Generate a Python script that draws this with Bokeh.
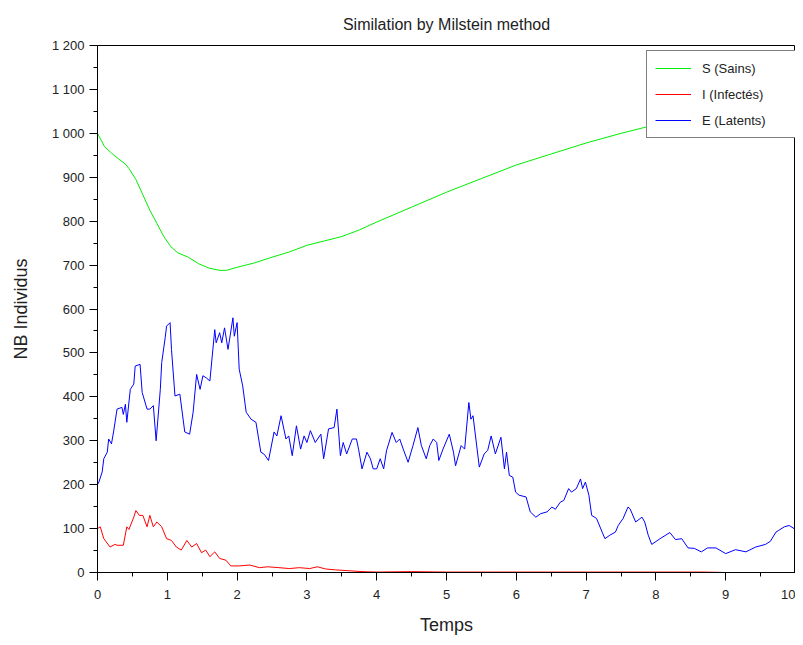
from bokeh.plotting import figure
from bokeh.models import FixedTicker, Legend, LegendItem, Range1d
from bokeh.embed import file_html
from bokeh.resources import INLINE

# ---- data ----
s_t = [0, 0.1, 0.2, 0.3, 0.4, 0.45, 0.55, 0.65, 0.75, 0.85, 0.95, 1.05, 1.15, 1.3,
       1.45, 1.6, 1.75, 1.85, 2.0, 2.25, 2.5, 2.75, 3.0, 3.25, 3.5, 3.75, 4.0, 4.5,
       5.0, 5.5, 6.0, 6.5, 7.0, 7.5, 8.0, 8.5, 9.0, 9.5, 10.0]
s_v = [1000, 970, 955, 942, 930, 920, 895, 860, 825, 795, 765, 742, 728, 718,
       703, 693, 688, 688, 695, 705, 718, 730, 745, 755, 765, 780, 798, 832,
       866, 897, 928, 953, 978, 1000, 1020, 1040, 1060, 1080, 1100]

i_t = [0, 0.04, 0.09, 0.18, 0.25, 0.28, 0.37, 0.42, 0.45, 0.52, 0.55, 0.6, 0.65,
       0.71, 0.75, 0.8, 0.85, 0.92, 0.99, 1.06, 1.13, 1.2, 1.28, 1.35, 1.42, 1.49,
       1.55, 1.61, 1.68, 1.75, 1.84, 1.91, 2.03, 2.18, 2.32, 2.44, 2.6, 2.75, 2.89,
       3.04, 3.15, 3.27, 3.41, 3.6, 3.79, 4.0, 4.5, 5.0, 5.5, 6.0, 6.5, 7.0, 7.5,
       8.0, 8.7, 9.0, 10.0]
i_v = [100, 104, 77, 58, 64, 62, 62, 104, 98, 126, 141, 130, 130,
       104, 130, 104, 115, 104, 77, 73, 58, 51, 73, 58, 66, 45,
       51, 36, 47, 32, 28, 15, 15, 17, 11, 13, 11, 9, 11,
       9, 13, 8, 6, 4, 2, 1, 2, 1, 1, 1, 1, 1, 1,
       1, 1, 0, 0]

e_t = [0, 0.02, 0.067, 0.09, 0.14, 0.16, 0.2, 0.23, 0.28, 0.35, 0.37, 0.4, 0.42,
       0.47, 0.52, 0.54, 0.61, 0.64, 0.71, 0.75, 0.8, 0.84, 0.9, 0.92, 0.97, 0.99,
       1.04, 1.06, 1.11, 1.18, 1.25, 1.32, 1.37, 1.42, 1.47, 1.51, 1.56, 1.61,
       1.68, 1.7, 1.75, 1.78, 1.82, 1.87, 1.94, 1.96, 2.0, 2.03, 2.08, 2.13, 2.2,
       2.27, 2.34, 2.39, 2.45, 2.53, 2.57, 2.63, 2.7, 2.74, 2.79, 2.85, 2.91, 2.96,
       3.0, 3.05, 3.12, 3.2, 3.24, 3.31, 3.39, 3.43, 3.48, 3.52, 3.57, 3.65, 3.71,
       3.74, 3.79, 3.86, 3.91, 3.95, 4.0, 4.05, 4.1, 4.14, 4.22, 4.28, 4.33, 4.38,
       4.45, 4.52, 4.59, 4.64, 4.71, 4.76, 4.81, 4.86, 4.89, 4.95, 5.04, 5.1, 5.13,
       5.21, 5.26, 5.32, 5.35, 5.38, 5.47, 5.54, 5.59, 5.64, 5.7, 5.78, 5.83, 5.86,
       5.9, 5.95, 5.99, 6.04, 6.14, 6.2, 6.28, 6.35, 6.44, 6.51, 6.56, 6.63, 6.68,
       6.75, 6.79, 6.86, 6.92, 6.95, 6.99, 7.04, 7.08, 7.15, 7.23, 7.27, 7.34, 7.42,
       7.46, 7.53, 7.6, 7.63, 7.71, 7.8, 7.84, 7.89, 7.94, 8.06, 8.2, 8.28, 8.37,
       8.46, 8.55, 8.65, 8.74, 8.86, 9.0, 9.14, 9.29, 9.43, 9.57, 9.64, 9.72, 9.76,
       9.84, 9.91, 9.98]
e_v = [200, 206, 229, 259, 274, 304, 293, 320, 372, 376, 360, 383, 342,
       417, 429, 470, 474, 410, 372, 372, 380, 300, 417, 478, 535, 561,
       569, 508, 402, 406, 320, 315, 365, 451, 417, 448, 443, 436,
       553, 523, 546, 523, 557, 508, 580, 538, 569, 463, 425, 365, 349,
       342, 274, 269, 255, 320, 311, 357, 304, 311, 266, 334, 281, 311,
       296, 323, 296, 315, 259, 327, 330, 372, 266, 296, 270, 304, 304,
       281, 236, 274, 259, 236, 236, 259, 236, 277, 319, 296, 304, 281,
       251, 289, 330, 289, 259, 289, 304, 296, 255, 281, 315, 274, 243,
       289, 281, 387, 349, 357, 240, 270, 278, 311, 270, 308, 236, 274,
       221, 217, 183, 176, 172, 138, 126, 134, 138, 149, 144, 160, 164,
       191, 183, 191, 213, 191, 206, 176, 130, 123, 92, 77, 85, 92,
       107, 123, 149, 145, 115, 126, 115, 85, 64, 77, 91, 75, 77,
       56, 55, 47, 56, 56, 43, 52, 47, 58, 64, 71, 92, 96,
       104, 107, 100]

y_ticks = [0, 100, 200, 300, 400, 500, 600, 700, 800, 900, 1000, 1100, 1200]
y_tick_labels = ["0", "100", "200", "300", "400", "500", "600", "700", "800",
                 "900", "1 000", "1 100", "1 200"]
x_ticks = [0, 1, 2, 3, 4, 5, 6, 7, 8, 9, 10]

FONT = "Liberation Sans"

p = figure(width=795, height=637, output_backend="svg", toolbar_location=None,
           x_range=Range1d(0, 10), y_range=Range1d(0, 1200),
           min_border_left=97, min_border_right=0, min_border_top=45,
           min_border_bottom=63, title="Similation by Milstein method")

p.title.align = "center"
p.title.text_font = FONT
p.title.text_font_size = "16px"
p.title.text_font_style = "normal"
p.title.text_color = "#222222"
p.title.standoff = 26

p.outline_line_color = "black"
p.outline_line_width = 1
p.xgrid.visible = False
p.ygrid.visible = False

for ax in (p.xaxis[0], p.yaxis[0]):
    ax.axis_line_color = "black"
    ax.major_tick_line_color = "black"
    ax.minor_tick_line_color = "black"
    ax.major_tick_out = 8
    ax.major_tick_in = 0
    ax.minor_tick_out = 4
    ax.minor_tick_in = 0
    ax.major_label_text_font = FONT
    ax.major_label_text_font_size = "13px"
    ax.major_label_text_color = "#222222"
    ax.axis_label_text_font = FONT
    ax.axis_label_text_font_size = "18px"
    ax.axis_label_text_font_style = "normal"
    ax.axis_label_text_color = "#222222"

p.xaxis.ticker = FixedTicker(ticks=x_ticks,
                             minor_ticks=[t + 0.5 for t in x_ticks[:-1]])
p.yaxis.ticker = FixedTicker(ticks=y_ticks,
                             minor_ticks=[v + 50 for v in y_ticks[:-1]])
p.yaxis.major_label_overrides = {v: l for v, l in zip(y_ticks, y_tick_labels)}
p.xaxis.axis_label = "Temps"
p.yaxis.axis_label = "NB Individus"
p.xaxis.major_label_standoff = 9
p.xaxis.axis_label_standoff = 13
p.yaxis.major_label_standoff = 5
p.yaxis.axis_label_standoff = 18

rs = p.line(s_t, s_v, line_color="#00ee00", line_width=1)
ri = p.line(i_t, i_v, line_color="#ff0000", line_width=1)
re_ = p.line(e_t, e_v, line_color="#0000ff", line_width=1)

legend = Legend(items=[LegendItem(label="S (Sains)", renderers=[rs]),
                       LegendItem(label="I (Infectés)", renderers=[ri]),
                       LegendItem(label="E (Latents)", renderers=[re_])],
                location=(549, 434))
legend.margin = 0
legend.padding = 8
legend.spacing = 8
legend.glyph_width = 36
legend.glyph_height = 18
legend.label_height = 18
legend.label_width = 86
legend.label_standoff = 11
legend.label_text_font = FONT
legend.label_text_font_size = "13px"
legend.label_text_color = "#222222"
legend.border_line_color = "black"
legend.border_line_width = 1
legend.background_fill_alpha = 1
p.add_layout(legend, "center")

open("out.html", "w").write(file_html(p, INLINE))
